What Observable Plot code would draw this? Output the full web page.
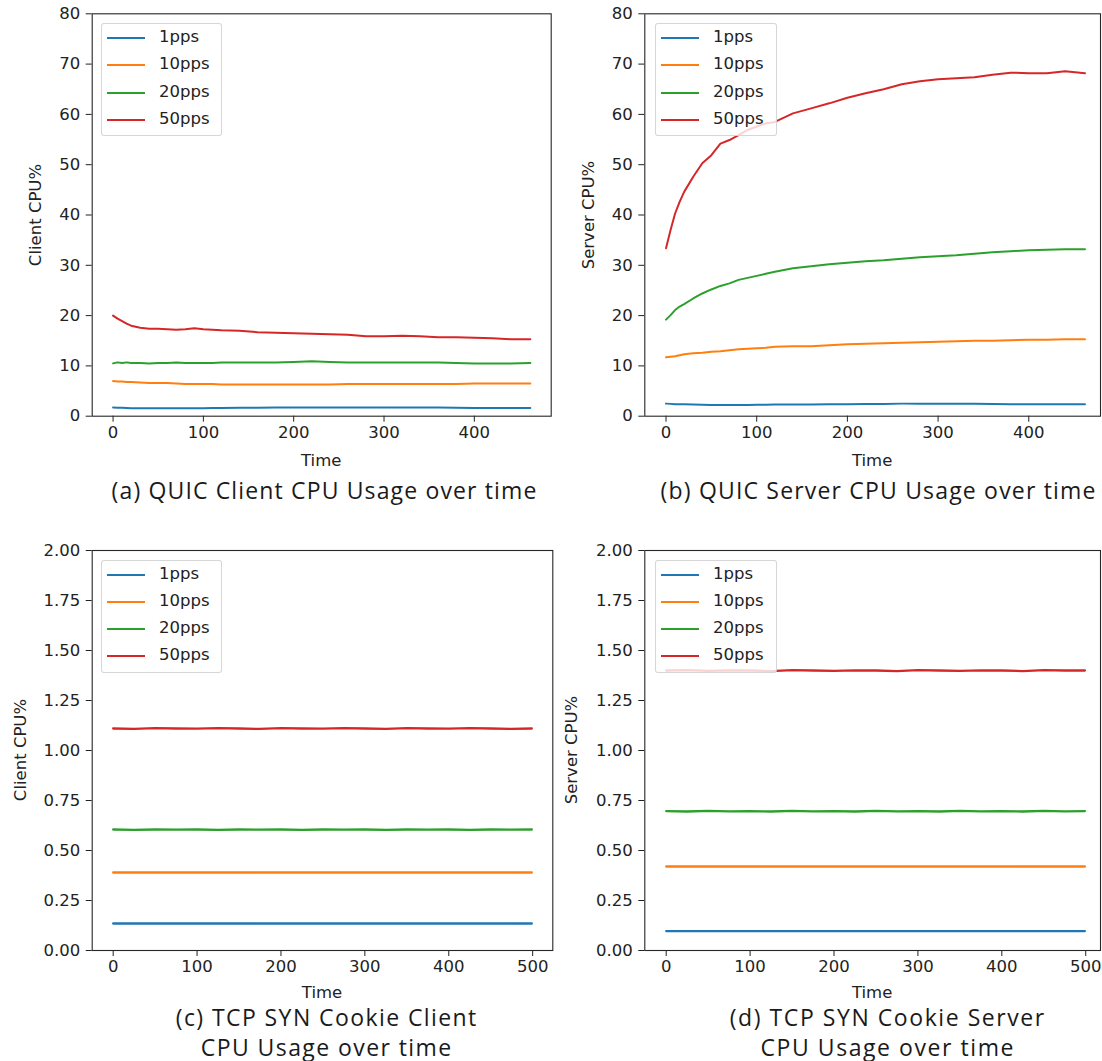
<!DOCTYPE html>
<html>
<head>
<meta charset="utf-8">
<script src="https://cdn.jsdelivr.net/npm/d3@7"></script>
<script src="https://cdn.jsdelivr.net/npm/@observablehq/plot@0.6"></script>
<style>
  html, body { margin: 0; padding: 0; background: #fff; }
  #root { position: relative; width: 1102px; height: 1061px; overflow: hidden; background: #fff; }
  .panel { position: absolute; }
  .lbl { position: absolute; font-family: "DejaVu Sans", sans-serif; font-size: 16.5px; color: #222; white-space: nowrap; line-height: 1; transform: translate(-50%, -50%); }
  .ylbl { transform: translate(-50%, -50%) rotate(-90deg); }
  .cap { position: absolute; font-family: "Open Sans", sans-serif; font-weight: 400; color: #1a1a1a; white-space: nowrap; line-height: 1; transform: translate(-50%, -50%); }
  .legend { position: absolute; background: rgba(255,255,255,0.8); border: 1px solid rgba(204,204,204,0.8); border-radius: 3px; box-sizing: border-box; }
  .legend .item { position: absolute; font-family: "DejaVu Sans", sans-serif; font-size: 16.5px; color: #222; line-height: 1; white-space: nowrap; }
</style>
</head>
<body>
<div id="root"></div>
<script>
// ---------- data ----------
const seriesNames = ["1pps", "10pps", "20pps", "50pps"];
const seriesColors = ["#1f77b4", "#ff7f0e", "#2ca02c", "#d62728"];

// QUIC time grid (seconds)
const quicTime = [0,5,10,15,20,30,40,50,60,70,80,90,100,110,120,140,160,180,200,220,240,260,280,300,320,340,360,380,400,420,440,462];

// (a) QUIC client CPU %
const quicClient1 = [1.75,1.7,1.7,1.65,1.6,1.6,1.6,1.6,1.6,1.6,1.6,1.6,1.6,1.65,1.65,1.7,1.7,1.75,1.75,1.75,1.75,1.75,1.75,1.75,1.75,1.75,1.75,1.7,1.65,1.65,1.65,1.65];
const quicClient10 = [7.0,6.9,6.9,6.8,6.8,6.7,6.6,6.6,6.6,6.5,6.4,6.4,6.4,6.4,6.3,6.3,6.3,6.3,6.3,6.3,6.3,6.4,6.4,6.4,6.4,6.4,6.4,6.4,6.5,6.5,6.5,6.5];
const quicClient20 = [10.5,10.7,10.6,10.7,10.6,10.6,10.5,10.6,10.6,10.7,10.6,10.6,10.6,10.6,10.7,10.7,10.7,10.7,10.8,10.9,10.8,10.7,10.7,10.7,10.7,10.7,10.7,10.6,10.5,10.5,10.5,10.6];
const quicClient50 = [20.0,19.4,18.9,18.4,18.0,17.6,17.4,17.4,17.3,17.2,17.3,17.5,17.3,17.2,17.1,17.0,16.7,16.6,16.5,16.4,16.3,16.2,15.9,15.9,16.0,15.9,15.7,15.7,15.6,15.5,15.3,15.3];

// (b) QUIC server CPU %
const quicServer1 = [2.5,2.45,2.4,2.4,2.4,2.35,2.3,2.25,2.25,2.25,2.25,2.25,2.3,2.3,2.35,2.35,2.35,2.4,2.4,2.45,2.45,2.5,2.5,2.5,2.5,2.5,2.45,2.4,2.4,2.4,2.4,2.4];
const quicServer10 = [11.7,11.8,11.9,12.1,12.3,12.5,12.6,12.8,12.9,13.1,13.3,13.4,13.5,13.6,13.8,13.9,13.9,14.1,14.3,14.4,14.5,14.6,14.7,14.8,14.9,15.0,15.0,15.1,15.2,15.2,15.3,15.3];
const quicServer20 = [19.2,20.1,21.1,21.8,22.3,23.4,24.4,25.2,25.9,26.4,27.1,27.5,27.9,28.3,28.7,29.4,29.8,30.2,30.5,30.8,31.0,31.3,31.6,31.8,32.0,32.3,32.6,32.8,33.0,33.1,33.2,33.2];
const quicServer50 = [33.4,37.0,40.3,42.6,44.6,47.6,50.3,51.9,54.2,54.9,55.9,56.9,57.6,58.2,58.5,60.2,61.2,62.2,63.3,64.2,65.0,66.0,66.6,67.0,67.2,67.4,67.9,68.3,68.2,68.2,68.6,68.2];

// TCP SYN cookie time grid (seconds)
const tcpTime = [0,25,50,75,100,125,150,175,200,225,250,275,300,325,350,375,400,425,450,475,499];

// (c) TCP SYN cookie client CPU %
const tcpClient1 = [0.135,0.135,0.135,0.135,0.135,0.135,0.135,0.135,0.135,0.135,0.135,0.135,0.135,0.135,0.135,0.135,0.135,0.135,0.135,0.135,0.135];
const tcpClient10 = [0.39,0.39,0.39,0.39,0.39,0.39,0.39,0.39,0.39,0.39,0.39,0.39,0.39,0.39,0.39,0.39,0.39,0.39,0.39,0.39,0.39];
const tcpClient20 = [0.605,0.603,0.605,0.604,0.605,0.603,0.605,0.604,0.605,0.603,0.605,0.604,0.605,0.603,0.605,0.604,0.605,0.603,0.605,0.604,0.605];
const tcpClient50 = [1.11,1.108,1.112,1.11,1.109,1.112,1.11,1.108,1.112,1.11,1.109,1.112,1.11,1.108,1.112,1.11,1.109,1.112,1.11,1.108,1.11];

// (d) TCP SYN cookie server CPU %
const tcpServer1 = [0.097,0.097,0.097,0.097,0.097,0.097,0.097,0.097,0.097,0.097,0.097,0.097,0.097,0.097,0.097,0.097,0.097,0.097,0.097,0.097,0.097];
const tcpServer10 = [0.42,0.42,0.42,0.42,0.42,0.42,0.42,0.42,0.42,0.42,0.42,0.42,0.42,0.42,0.42,0.42,0.42,0.42,0.42,0.42,0.42];
const tcpServer20 = [0.697,0.695,0.698,0.696,0.697,0.695,0.698,0.696,0.697,0.695,0.698,0.696,0.697,0.695,0.698,0.696,0.697,0.695,0.698,0.696,0.697];
const tcpServer50 = [1.40,1.402,1.398,1.401,1.40,1.397,1.402,1.40,1.398,1.401,1.40,1.397,1.402,1.40,1.398,1.401,1.40,1.397,1.402,1.40,1.40];

const quicYTicks = [0,10,20,30,40,50,60,70,80];
const quicXTicks = [0,100,200,300,400];
const tcpYTicks = [0,0.25,0.5,0.75,1,1.25,1.5,1.75,2];
const tcpXTicks = [0,100,200,300,400,500];

// ---------- helpers ----------
function toRows(time, lists) {
  const rows = [];
  lists.forEach((vals, i) => vals.forEach((v, j) => rows.push({t: time[j], v, s: seriesNames[i]})));
  return rows;
}

const root = document.getElementById("root");
const CAP_FS = 23;

function panel(cfg) {
  const svg = Plot.plot({
    width: cfg.width, height: cfg.height,
    marginLeft: cfg.ml, marginRight: cfg.mr, marginTop: cfg.mt, marginBottom: cfg.mb,
    x: {domain: cfg.xDomain, ticks: cfg.xTicks, label: null, tickSize: 6, tickPadding: 4, tickFormat: d3.format("d")},
    y: {domain: cfg.yDomain, ticks: cfg.yTicks, label: null, tickSize: 6, tickPadding: 6, tickFormat: cfg.yFormat},
    color: {domain: seriesNames, range: seriesColors},
    style: {fontFamily: "DejaVu Sans, sans-serif", fontSize: "16.5px", color: "#222", background: "transparent", overflow: "visible"},
    marks: [
      Plot.lineY(cfg.rows, {x: "t", y: "v", stroke: "s", strokeWidth: cfg.lw, clip: true}),
      Plot.frame({stroke: "#262626", strokeWidth: 1.1})
    ]
  });
  svg.classList.add("panel");
  svg.style.left = cfg.left + "px";
  svg.style.top = cfg.top + "px";
  root.appendChild(svg);

  // axis labels
  const fx0 = cfg.left + cfg.ml, fx1 = cfg.left + cfg.width - cfg.mr;
  const fy0 = cfg.top + cfg.mt, fy1 = cfg.top + cfg.height - cfg.mb;
  const tl = document.createElement("div");
  tl.className = "lbl"; tl.textContent = "Time";
  tl.style.left = ((fx0 + fx1) / 2) + "px"; tl.style.top = cfg.timeY + "px";
  root.appendChild(tl);
  const yl = document.createElement("div");
  yl.className = "lbl ylbl"; yl.textContent = cfg.yLabel;
  yl.style.left = cfg.yLabelX + "px"; yl.style.top = ((fy0 + fy1) / 2) + "px";
  root.appendChild(yl);

  // legend
  const lg = document.createElement("div");
  lg.className = "legend";
  lg.style.left = cfg.lg.x + "px"; lg.style.top = cfg.lg.y + "px";
  lg.style.width = cfg.lg.w + "px"; lg.style.height = cfg.lg.h + "px";
  seriesNames.forEach((n, i) => {
    const cy = cfg.lg.rows[i] - cfg.lg.y;
    const sw = document.createElementNS("http://www.w3.org/2000/svg", "svg");
    sw.setAttribute("width", 40); sw.setAttribute("height", 6);
    sw.style.position = "absolute"; sw.style.left = "5px"; sw.style.top = (cy - 3) + "px";
    const ln = document.createElementNS("http://www.w3.org/2000/svg", "line");
    ln.setAttribute("x1", 0); ln.setAttribute("x2", 38); ln.setAttribute("y1", 3); ln.setAttribute("y2", 3);
    ln.setAttribute("stroke", seriesColors[i]); ln.setAttribute("stroke-width", 2);
    sw.appendChild(ln); lg.appendChild(sw);
    const tx = document.createElement("div");
    tx.className = "item"; tx.textContent = n;
    tx.style.left = "57px"; tx.style.top = (cy - 9) + "px";
    lg.appendChild(tx);
  });
  root.appendChild(lg);

  // caption: fixed size, letter-spacing fitted to the reference width of the first line
  const ctx = document.createElement("canvas").getContext("2d");
  ctx.font = CAP_FS + "px 'Open Sans'";
  const first = cfg.caption[0];
  const w = ctx.measureText(first).width;
  const ls = Math.max(0, (cfg.capWidth - w) / first.length);
  cfg.caption.forEach((line, i) => {
    const c = document.createElement("div");
    c.className = "cap"; c.textContent = line;
    c.style.fontSize = CAP_FS + "px";
    c.style.letterSpacing = ls + "px";
    c.style.left = (cfg.capX + ls / 2) + "px"; c.style.top = cfg.capY[i] + "px";
    root.appendChild(c);
  });
}

panel({
  rows: toRows(quicTime, [quicClient1, quicClient10, quicClient20, quicClient50]),
  left: 0, top: 0, width: 560, height: 440, ml: 91.7, mr: 9.3, mt: 13.3, mb: 24.3, lw: 2,
  xDomain: [-23.1, 485.1], xTicks: quicXTicks, yDomain: [0, 80], yTicks: quicYTicks, yFormat: d3.format("d"),
  yLabel: "Client CPU%", yLabelX: 36, timeY: 461,
  lg: {x: 101, y: 23, w: 121, h: 113, rows: [37, 64.3, 91.6, 118.6]},
  caption: ["(a) QUIC Client CPU Usage over time"], capX: 324, capY: [490], capWidth: 426
});
panel({
  rows: toRows(quicTime, [quicServer1, quicServer10, quicServer20, quicServer50]),
  left: 552, top: 0, width: 550, height: 440, ml: 92.3, mr: 2, mt: 13.3, mb: 24.3, lw: 2,
  xDomain: [-23.4, 479.1], xTicks: quicXTicks, yDomain: [0, 80], yTicks: quicYTicks, yFormat: d3.format("d"),
  yLabel: "Server CPU%", yLabelX: 589, timeY: 461,
  lg: {x: 655, y: 23, w: 122, h: 113, rows: [37, 64.3, 91.6, 118.6]},
  caption: ["(b) QUIC Server CPU Usage over time"], capX: 878, capY: [490], capWidth: 436
});
panel({
  rows: toRows(tcpTime, [tcpClient1, tcpClient10, tcpClient20, tcpClient50]),
  left: 0, top: 530, width: 560, height: 450, ml: 91.7, mr: 7.7, mt: 20, mb: 30, lw: 2.3,
  xDomain: [-25, 524], xTicks: tcpXTicks, yDomain: [0, 2], yTicks: tcpYTicks, yFormat: d3.format(".2f"),
  yLabel: "Client CPU%", yLabelX: 21, timeY: 993,
  lg: {x: 101, y: 559.5, w: 121, h: 113, rows: [573.5, 600.6, 627.8, 655]},
  caption: ["(c) TCP SYN Cookie Client", "CPU Usage over time"], capX: 326, capY: [1017, 1047], capWidth: 302
});
panel({
  rows: toRows(tcpTime, [tcpServer1, tcpServer10, tcpServer20, tcpServer50]),
  left: 552, top: 530, width: 550, height: 450, ml: 92.3, mr: 2, mt: 20, mb: 30, lw: 2.3,
  xDomain: [-25.5, 517.6], xTicks: tcpXTicks, yDomain: [0, 2], yTicks: tcpYTicks, yFormat: d3.format(".2f"),
  yLabel: "Server CPU%", yLabelX: 572, timeY: 993,
  lg: {x: 655, y: 559.5, w: 122, h: 113, rows: [573.5, 600.6, 627.8, 655]},
  caption: ["(d) TCP SYN Cookie Server", "CPU Usage over time"], capX: 887, capY: [1017, 1047], capWidth: 316
});
</script>
</body>
</html>
